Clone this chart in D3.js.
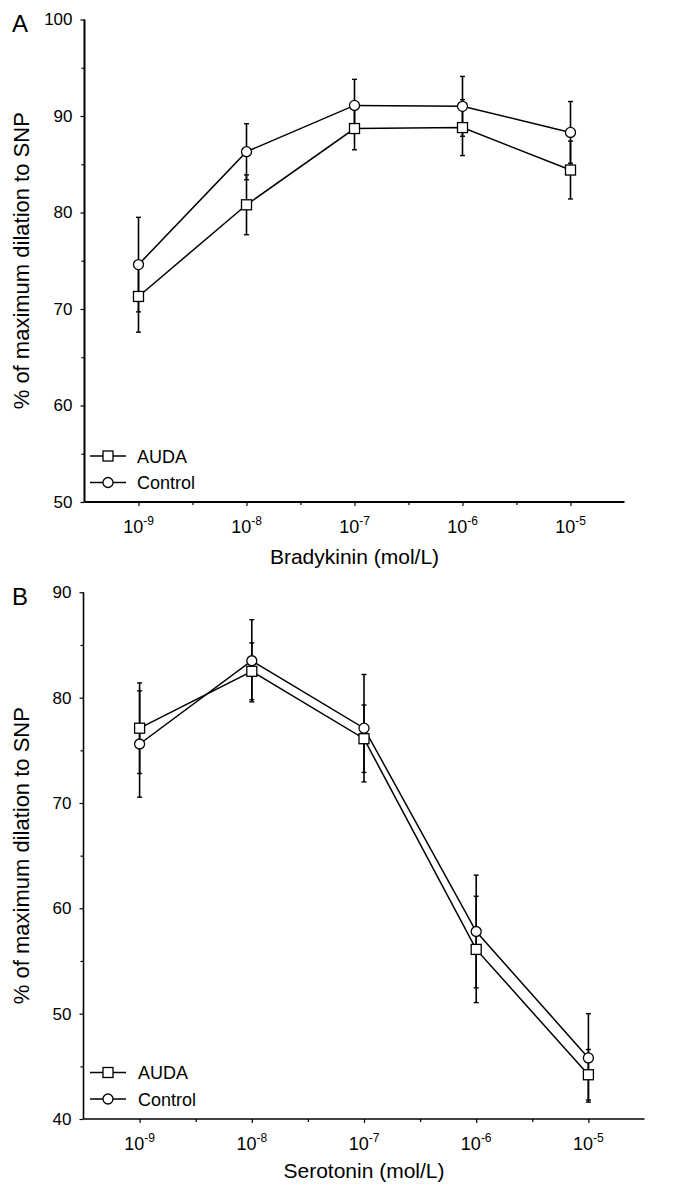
<!DOCTYPE html>
<html>
<head>
<meta charset="utf-8">
<script src="https://cdn.jsdelivr.net/npm/d3@7"></script>
<style>
  html, body { margin: 0; padding: 0; background: #fff; }
  svg { display: block; font-family: "Liberation Sans", Arial, Helvetica, sans-serif; }
</style>
</head>
<body>
<svg id="chart" width="689" height="1191"></svg>
<script>
// ---------- DATA ----------
const exponents = [-9, -8, -7, -6, -5];
const tickBase = "10";
const tickExponents = ["-9", "-8", "-7", "-6", "-5"];
const seriesNames = ["AUDA", "Control"];

// Panel A: Bradykinin
const bradyAuda = [71.3, 80.8, 88.7, 88.8, 84.4];
const bradyAudaErr = [3.7, 3.1, 2.2, 2.9, 3.0];
const bradyControl = [74.6, 86.3, 91.1, 91.0, 88.3];
const bradyControlErr = [4.9, 2.9, 2.7, 3.1, 3.2];
const bradyYTicks = [50, 60, 70, 80, 90, 100];

// Panel B: Serotonin
const seroAuda = [77.1, 82.5, 76.1, 56.1, 44.2];
const seroAudaErr = [4.3, 2.7, 3.2, 5.05, 2.4];
const seroControl = [75.6, 83.5, 77.1, 57.8, 45.8];
const seroControlErr = [5.05, 3.9, 5.1, 5.35, 4.2];
const seroYTicks = [40, 50, 60, 70, 80, 90];

const yTitle = "% of maximum dilation to SNP";

// ---------- DRAW ----------
const svg = d3.select("#chart");

const panels = [
  {
    letter: "A", letterY: 32,
    xRange: [84.5, 624.5], yRange: [502, 19.5], yDomain: [50, 100],
    yTicks: bradyYTicks, xTitle: "Bradykinin (mol/L)", xTitleY: 564,
    auda: bradyAuda, audaErr: bradyAudaErr, control: bradyControl, controlErr: bradyControlErr,
    legendY: [456, 482.5], legendTextX: 137, axisW: 2
  },
  {
    letter: "B", letterY: 605,
    xRange: [83.5, 644.5], yRange: [1119, 592.3], yDomain: [40, 90],
    yTicks: seroYTicks, xTitle: "Serotonin (mol/L)", xTitleY: 1178,
    auda: seroAuda, audaErr: seroAudaErr, control: seroControl, controlErr: seroControlErr,
    legendY: [1072.5, 1099], legendTextX: 138, axisW: 1.6
  }
];

panels.forEach(p => {
  const x = d3.scaleLinear().domain([-9.5, -4.5]).range(p.xRange);
  const y = d3.scaleLinear().domain(p.yDomain).range(p.yRange);
  const g = svg.append("g");
  const axisY = p.yRange[0];
  const axisX = p.xRange[0];

  // Panel letter
  g.append("text").attr("x", 12).attr("y", p.letterY)
    .attr("font-size", 24).text(p.letter);

  // Y axis (major)
  const yAxis = g.append("g").attr("transform", `translate(${axisX},0)`)
    .call(d3.axisLeft(y).tickValues(p.yTicks).tickSize(4).tickPadding(8).tickFormat(d3.format("d")));
  // Y minor ticks
  const yMinor = d3.range(p.yDomain[0] + 5, p.yDomain[1], 10);
  g.append("g").attr("transform", `translate(${axisX},0)`)
    .call(d3.axisLeft(y).tickValues(yMinor).tickSize(3).tickFormat(""))
    .call(s => s.select(".domain").remove());

  // X axis (major)
  const xAxis = g.append("g").attr("transform", `translate(0,${axisY})`)
    .call(d3.axisBottom(x).tickValues(exponents).tickSize(4).tickFormat(""));
  const xMinor = d3.range(-8.5, -4.5, 1);
  g.append("g").attr("transform", `translate(0,${axisY})`)
    .call(d3.axisBottom(x).tickValues(xMinor).tickSize(3).tickFormat(""))
    .call(s => s.select(".domain").remove());

  [yAxis, xAxis].forEach(a => {
    a.select(".domain").attr("stroke", "#000").attr("stroke-width", p.axisW);
  });
  g.selectAll(".tick line").attr("stroke", "#000").attr("stroke-width", 1.2);
  yAxis.selectAll(".tick text").attr("font-size", 17).attr("fill", "#000")
    .attr("font-family", "Liberation Sans, Arial, sans-serif");
  // Remove domain end caps by redrawing path straight
  yAxis.select(".domain").attr("d", `M0,${p.yRange[0]}V${p.yRange[1]}`);
  xAxis.select(".domain").attr("d", `M${p.xRange[0]},0H${p.xRange[1]}`);

  // X tick labels with superscripts
  exponents.forEach((e, i) => {
    const t = g.append("text")
      .attr("x", x(e)).attr("y", axisY + 30.5)
      .attr("text-anchor", "middle")
      .attr("font-size", 18);
    t.append("tspan").text(tickBase);
    t.append("tspan").attr("font-size", 12).attr("dy", -8).text(tickExponents[i]);
  });

  // X title
  g.append("text").attr("x", (p.xRange[0] + p.xRange[1]) / 2).attr("y", p.xTitleY)
    .attr("text-anchor", "middle").attr("font-size", 21).text(p.xTitle);

  // Y title
  const yc = (p.yRange[0] + p.yRange[1]) / 2;
  g.append("text")
    .attr("transform", `translate(29,${yc}) rotate(-90)`)
    .attr("text-anchor", "middle").attr("font-size", 22).text(yTitle);

  // Series
  const series = [
    { name: seriesNames[0], vals: p.auda, errs: p.audaErr, shape: "square" },
    { name: seriesNames[1], vals: p.control, errs: p.controlErr, shape: "circle" }
  ];
  const line = d3.line().x((d, i) => x(exponents[i])).y(d => y(d));

  series.forEach(s => {
    g.append("path").datum(s.vals).attr("d", line)
      .attr("fill", "none").attr("stroke", "#000").attr("stroke-width", 1.5);
  });
  series.forEach(s => {
    s.vals.forEach((v, i) => {
      const cx = x(exponents[i]);
      const top = y(v + s.errs[i]), bot = y(v - s.errs[i]);
      g.append("line").attr("x1", cx).attr("x2", cx).attr("y1", top).attr("y2", bot)
        .attr("stroke", "#000").attr("stroke-width", 1.6);
      [top, bot].forEach(yy => g.append("line")
        .attr("x1", cx - 2.5).attr("x2", cx + 2.5).attr("y1", yy).attr("y2", yy)
        .attr("stroke", "#000").attr("stroke-width", 1.4));
    });
  });
  function marker(sel, shape, cx, cy) {
    if (shape === "square") {
      sel.append("rect").attr("x", cx - 5).attr("y", cy - 5).attr("width", 10).attr("height", 10)
        .attr("fill", "#fff").attr("stroke", "#000").attr("stroke-width", 1.3);
    } else {
      sel.append("circle").attr("cx", cx).attr("cy", cy).attr("r", 5)
        .attr("fill", "#fff").attr("stroke", "#000").attr("stroke-width", 1.3);
    }
  }
  series.forEach(s => {
    s.vals.forEach((v, i) => marker(g, s.shape, x(exponents[i]), y(v)));
  });

  // Legend
  series.forEach((s, k) => {
    const ly = p.legendY[k];
    g.append("line").attr("x1", 90).attr("x2", 126).attr("y1", ly).attr("y2", ly)
      .attr("stroke", "#000").attr("stroke-width", 1.4);
    marker(g, s.shape, 108, ly);
    g.append("text").attr("x", p.legendTextX).attr("y", ly + 6.5)
      .attr("font-size", 18).text(s.name);
  });
});
</script>
</body>
</html>
